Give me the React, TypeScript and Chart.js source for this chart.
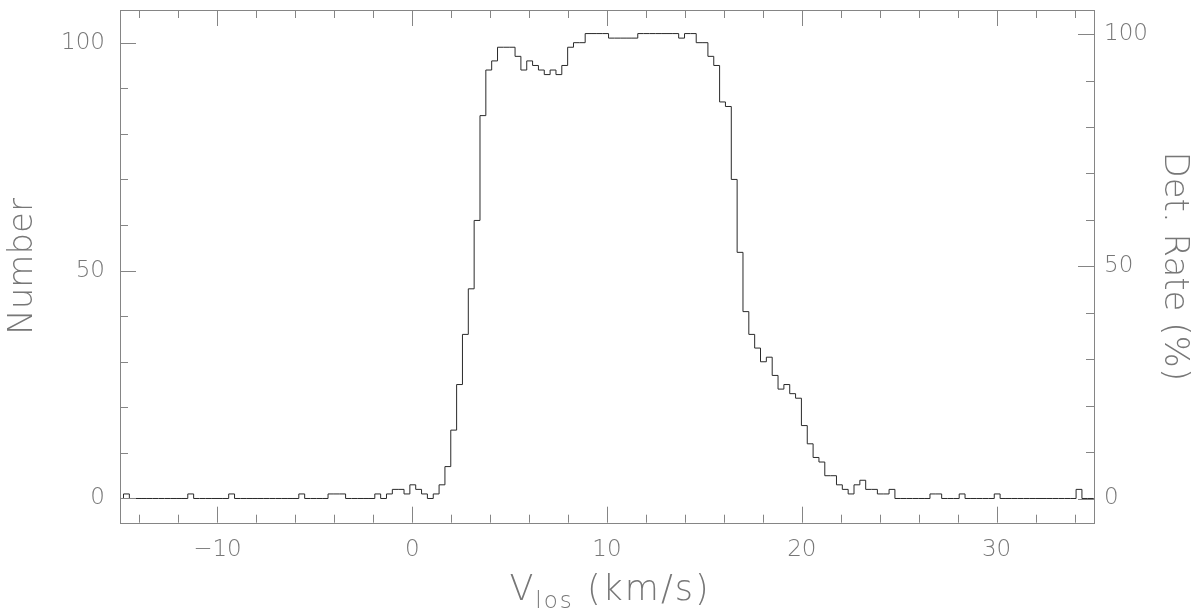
import React, { useEffect, useRef } from "react";
import { Chart, registerables } from "chart.js";

Chart.register(...registerables);

// ---- data ----
const BIN_START = -15.12; // left edge of first histogram bin (km/s)
const BIN_WIDTH = 0.3; // km/s
const COUNTS = [
  0, 1, 0, 0, 0, 0, 0, 0, 0, 0,
  0, 0, 1, 0, 0, 0, 0, 0, 0, 1,
  0, 0, 0, 0, 0, 0, 0, 0, 0, 0,
  0, 1, 0, 0, 0, 0, 1, 1, 1, 0,
  0, 0, 0, 0, 1, 0, 1, 2, 2, 1,
  3, 2, 1, 0, 1, 3, 7, 15, 25, 36,
  46, 61, 84, 94, 96, 99, 99, 99, 97, 94,
  96, 95, 94, 93, 94, 93, 95, 99, 100, 100,
  102, 102, 102, 102, 101, 101, 101, 101, 101, 102,
  102, 102, 102, 102, 102, 102, 101, 102, 102, 100,
  100, 97, 95, 87, 86, 70, 54, 41, 36, 33,
  30, 31, 27, 24, 25, 23, 22, 16, 12, 9,
  8, 5, 5, 3, 2, 1, 3, 4, 2, 2,
  1, 1, 2, 0, 0, 0, 0, 0, 0, 1,
  1, 0, 0, 0, 1, 0, 0, 0, 0, 0,
  1, 0, 0, 0, 0, 0, 0, 0, 0, 0,
  0, 0, 0, 0, 2, 0, 0, 0,
];

const X_MIN = -15;
const X_MAX = 35;
const Y_LEFT_MIN = -5.31;
const Y_LEFT_MAX = 107.17;
const Y_RIGHT_MIN = -5.21;
const Y_RIGHT_MAX = 105.2;

const X_TICK_LABELS = [-10, 0, 10, 20, 30];
const X_MINOR_TICKS = [-14, -12, -10, -8, -6, -4, -2, 0, 2, 4, 6, 8, 10, 12, 14, 16, 18, 20, 22, 24, 26, 28, 30, 32, 34];
const Y_TICK_LABELS = [0, 50, 100];
const Y_MINOR_TICKS = [0, 10, 20, 30, 40, 50, 60, 70, 80, 90, 100];

const LEFT_TITLE = "Number";
const RIGHT_TITLE = "Det. Rate (%)";
const X_TITLE_MAIN = "V";
const X_TITLE_SUB = "los";
const X_TITLE_REST = " (km/s)";

// ---- styles ----
const FAMILY = '"DejaVu Sans", "Liberation Sans", sans-serif';
const WEIGHT = "200";
const TEXT_COLOR = "#777777";
const FRAME_COLOR = "#858585";
const LINE_COLOR = "#2a2a2a";

const fmt = (v: number) => (v < 0 ? "\u2212" + Math.abs(v) : String(v));

const zeroPad = (s: any) => {
  s.paddingTop = 0;
  s.paddingBottom = 0;
  s.paddingLeft = 0;
  s.paddingRight = 0;
};

const frameTicksPlugin = {
  id: "frameTicks",
  afterDatasetsDraw(chart: any) {
    const { ctx, chartArea } = chart;
    const { left, right, top, bottom } = chartArea;
    const xs = chart.scales.x;
    const yl = chart.scales.y;
    const yr = chart.scales.y2;
    ctx.save();
    ctx.strokeStyle = FRAME_COLOR;
    ctx.lineWidth = 1;
    ctx.strokeRect(Math.round(left) + 0.5, Math.round(top) + 0.5, Math.round(right - left), Math.round(bottom - top));
    ctx.beginPath();
    X_MINOR_TICKS.forEach((v) => {
      const len = X_TICK_LABELS.includes(v) ? 16 : 8;
      const px = Math.round(xs.getPixelForValue(v)) + 0.5;
      ctx.moveTo(px, bottom);
      ctx.lineTo(px, bottom - len);
      ctx.moveTo(px, top);
      ctx.lineTo(px, top + len);
    });
    Y_MINOR_TICKS.forEach((v) => {
      const len = Y_TICK_LABELS.includes(v) ? 16 : 8;
      const py = Math.round(yl.getPixelForValue(v)) + 0.5;
      ctx.moveTo(left, py);
      ctx.lineTo(left + len, py);
      const pr = Math.round(yr.getPixelForValue(v)) + 0.5;
      ctx.moveTo(right, pr);
      ctx.lineTo(right - len, pr);
    });
    ctx.stroke();
    ctx.restore();
  },
  afterDraw(chart: any) {
    const { ctx, chartArea } = chart;
    const cx = (chartArea.left + chartArea.right) / 2 + 3;
    ctx.save();
    ctx.fillStyle = TEXT_COLOR;
    ctx.textBaseline = "alphabetic";
    ctx.textAlign = "left";
    try {
      (ctx as any).letterSpacing = "2px";
    } catch (e) {}
    const mainFont = `${WEIGHT} 35px ${FAMILY}`;
    const subFont = `${WEIGHT} 23px ${FAMILY}`;
    ctx.font = mainFont;
    const w1 = ctx.measureText(X_TITLE_MAIN).width;
    const w3 = ctx.measureText(X_TITLE_REST).width;
    ctx.font = subFont;
    const w2 = ctx.measureText(X_TITLE_SUB).width;
    const x0 = cx - (w1 + w2 + w3) / 2;
    const base = 600;
    ctx.font = mainFont;
    ctx.fillText(X_TITLE_MAIN, x0, base);
    ctx.font = subFont;
    ctx.fillText(X_TITLE_SUB, x0 + w1, base + 8);
    ctx.font = mainFont;
    ctx.fillText(X_TITLE_REST, x0 + w1 + w2, base);
    ctx.restore();
  },
};

export default function App() {
  const ref = useRef<HTMLCanvasElement | null>(null);

  useEffect(() => {
    if (!ref.current) return;
    const points = COUNTS.map((c, i) => ({ x: BIN_START + i * BIN_WIDTH, y: c }));
    points.push({ x: BIN_START + COUNTS.length * BIN_WIDTH, y: COUNTS[COUNTS.length - 1] });

    const tickFont = { family: FAMILY, size: 23, weight: WEIGHT as any };
    const titleFont = { family: FAMILY, size: 34, weight: WEIGHT as any };

    const chart = new Chart(ref.current, {
      type: "line",
      data: {
        datasets: [
          {
            data: points,
            borderColor: LINE_COLOR,
            borderWidth: 1,
            pointRadius: 0,
            stepped: true,
            fill: false,
            yAxisID: "y",
            xAxisID: "x",
          },
        ],
      },
      options: {
        animation: false,
        responsive: false,
        maintainAspectRatio: false,
        layout: { padding: { top: 10, left: 0, right: 0, bottom: 0 } },
        plugins: { legend: { display: false }, tooltip: { enabled: false } },
        scales: {
          x: {
            type: "linear",
            position: "bottom",
            min: X_MIN,
            max: X_MAX,
            grid: { display: false, drawTicks: false },
            border: { display: false },
            afterBuildTicks: (s: any) => {
              s.ticks = X_TICK_LABELS.map((v) => ({ value: v }));
            },
            ticks: {
              padding: 14,
              font: tickFont,
              color: TEXT_COLOR,
              maxRotation: 0,
              autoSkip: false,
              callback: (v: any) => fmt(Number(v)),
            },
            afterFit: (s: any) => {
              s.height = 92.3;
              zeroPad(s);
            },
          },
          y: {
            type: "linear",
            position: "left",
            min: Y_LEFT_MIN,
            max: Y_LEFT_MAX,
            grid: { display: false, drawTicks: false },
            border: { display: false },
            afterBuildTicks: (s: any) => {
              s.ticks = Y_TICK_LABELS.map((v) => ({ value: v }));
            },
            ticks: {
              padding: 15,
              font: tickFont,
              color: TEXT_COLOR,
              autoSkip: false,
              callback: (v: any) => fmt(Number(v)),
            },
            title: {
              display: true,
              text: LEFT_TITLE,
              font: titleFont,
              color: TEXT_COLOR,
              padding: { top: 3, bottom: 0 },
            },
            afterFit: (s: any) => {
              s.width = 120;
              zeroPad(s);
            },
          },
          y2: {
            type: "linear",
            position: "right",
            min: Y_RIGHT_MIN,
            max: Y_RIGHT_MAX,
            grid: { display: false, drawTicks: false },
            border: { display: false },
            afterBuildTicks: (s: any) => {
              s.ticks = Y_TICK_LABELS.map((v) => ({ value: v }));
            },
            ticks: {
              padding: 10,
              font: tickFont,
              color: TEXT_COLOR,
              autoSkip: false,
              callback: (v: any) => fmt(Number(v)),
            },
            title: {
              display: true,
              text: RIGHT_TITLE,
              font: titleFont,
              color: TEXT_COLOR,
              padding: { top: 6, bottom: 0 },
            },
            afterFit: (s: any) => {
              s.width = 106;
              zeroPad(s);
            },
          },
        },
      },
      plugins: [frameTicksPlugin],
    } as any);

    return () => chart.destroy();
  }, []);

  return (
    <div style={{ position: "absolute", left: 0, top: 0, width: 1200, height: 615, background: "#fff" }}>
      <canvas ref={ref} width={1200} height={615} style={{ display: "block", width: 1200, height: 615 }} />
    </div>
  );
}
